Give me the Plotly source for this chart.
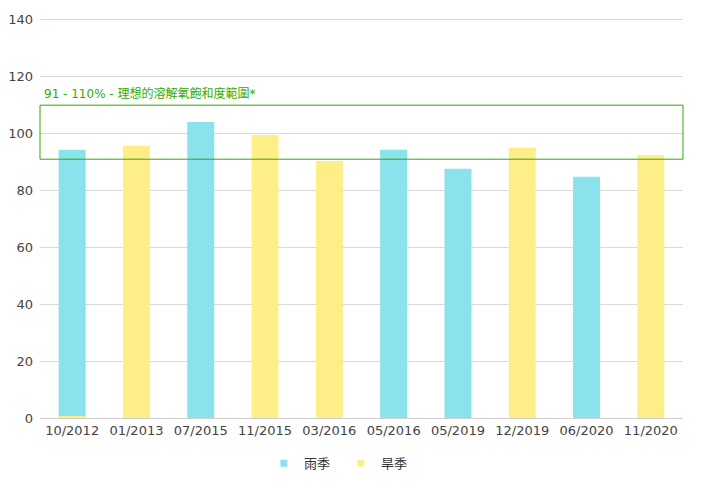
import plotly.graph_objects as go

categories = ["10/2012", "01/2013", "07/2015", "11/2015", "03/2016",
              "05/2016", "05/2019", "12/2019", "06/2020", "11/2020"]
rainy = [94.3, None, 104.1, None, None, 94.3, 87.6, None, 84.8, None]
dry = [0.4, 95.7, None, 99.5, 90.4, None, None, 95.0, None, 92.5]
series_names = ["雨季", "旱季"]
series_colors = ["#8ae2ec", "#feee88"]
ideal_low = 91
ideal_high = 110
ideal_label = "91 - 110% - 理想的溶解氧飽和度範圍*"

fig = go.Figure()
for name, vals, col in zip(series_names, [rainy, dry], series_colors):
    fig.add_trace(go.Bar(x=categories, y=vals, name=name, marker_color=col,
                         marker_line_width=0,
                         width=0.42, showlegend=False, legendgroup=name))
for name, col in zip(series_names, series_colors):
    fig.add_trace(go.Scatter(x=[None], y=[None], mode="markers", name=name,
                             legendgroup=name,
                             marker=dict(symbol="square", size=7, color=col)))

fig.add_shape(type="rect", xref="paper", yref="y", x0=0, x1=1,
              y0=ideal_low, y1=ideal_high,
              line=dict(color="#33aa00", width=1), fillcolor="rgba(0,0,0,0)")
fig.add_annotation(xref="paper", yref="y", x=0.003, y=ideal_high,
                   text=ideal_label, showarrow=False, xanchor="left", yanchor="bottom",
                   yshift=2, font=dict(color="#33aa00", size=12))

fig.update_layout(
    width=694, height=490,
    margin=dict(l=32, r=19, t=9, b=80),
    barmode="overlay",
    plot_bgcolor="white", paper_bgcolor="white",
    font=dict(family="DejaVu Sans, Noto Sans CJK TC", size=13, color="#444"),
    xaxis=dict(showgrid=False, showline=True, linecolor="#d0d0d0", ticks="",
               automargin=False),
    yaxis=dict(range=[0, 141], tickvals=[0, 20, 40, 60, 80, 100, 120, 140],
               showgrid=True, gridcolor="#d9d9d9",
               zeroline=False, ticks="", ticklabelstandoff=6, automargin=False),
    legend=dict(orientation="h", x=0.468, xanchor="center", y=-0.113, yanchor="middle",
                font=dict(size=13, color="#333"), itemwidth=30, entrywidth=32),
    showlegend=True,
)
fig.write_html("out.html")
